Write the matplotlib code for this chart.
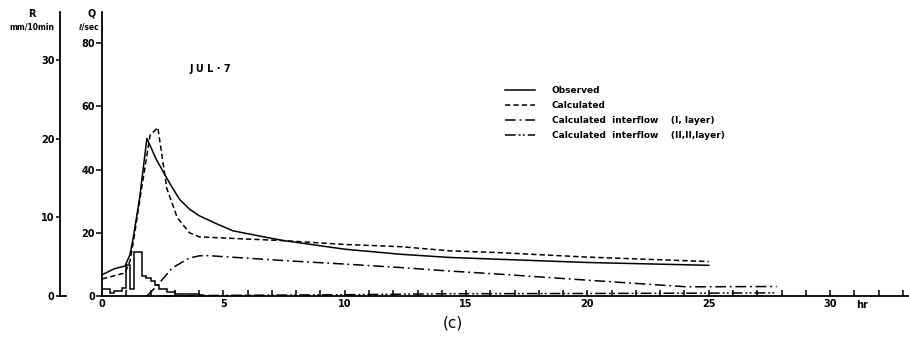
import numpy as np
import matplotlib
matplotlib.use("Agg")
import matplotlib.pyplot as plt

plt.rcParams['font.family'] = ['DejaVu Sans']

# rainfall, mm per 10 min, bins of 10 min from t = 0
rain = [0.9, 0.9, 0.35, 0.6, 0.6, 1.0, 4.0, 0.9, 5.6, 5.6, 2.5, 2.3, 1.9, 1.4,
        0.9, 0.9, 0.55, 0.55, 0.3, 0.3, 0.2, 0.3, 0.2, 0.3, 0.1]
rain_edges = np.arange(len(rain) + 1) / 6.0

# discharge, l/sec
obs_t = [0, 0.5, 0.95, 1.15, 1.3, 1.55, 1.85, 2.25, 2.8, 3.2, 3.6, 4.0, 4.7, 5.4,
         6.8, 7.5, 10, 12.3, 14.3, 16.4, 20, 25]
obs_q = [6.7, 8.6, 9.5, 13, 19, 31, 49.8, 43, 35.5, 30.5, 27.5, 25.4, 22.9, 20.6,
         18.5, 17.5, 14.8, 13.2, 12.2, 11.6, 10.6, 9.7]

calc_t = [0, 0.95, 1.15, 1.3, 1.55, 1.98, 2.3, 2.67, 3.1, 3.6, 4.0, 5.7,
          7.5, 10, 12.3, 14.3, 16.4, 20, 25]
calc_q = [5.4, 7.3, 11, 17.5, 30, 50.8, 53.3, 34, 24.8, 20, 18.7, 18.1,
          17.5, 16.3, 15.6, 14.3, 13.7, 12.3, 10.9]

if1_t = [1.85, 2.26, 2.9, 3.6, 4.0, 4.3, 5.7, 7.7, 10, 12.3, 14.3, 16.4, 20,
         24.1, 27.8]
if1_q = [0, 3.2, 8.9, 12, 12.7, 12.8, 12.1, 11.1, 10.1, 9.0, 7.9, 6.9, 5.0,
         2.9, 3.0]

if2_t = [2.5, 5, 10, 14, 20, 25, 27.8]
if2_q = [0, 0.2, 0.4, 0.7, 0.8, 0.9, 1.0]

labels = ["Observed", "Calculated",
          "Calculated  interflow    (I, layer)",
          "Calculated  interflow    (II,II,layer)"]

W, H = 909, 346
fig = plt.figure(figsize=(W / 100, H / 100), dpi=100)
ax = fig.add_axes([102 / W, (H - 296) / H, 807 / W, 284 / H])

lw = 1.1
ax.plot(obs_t, obs_q, color='k', lw=lw, label=labels[0], clip_on=False)
ax.plot(calc_t, calc_q, color='k', lw=lw, ls=(0, (3.5, 2)), label=labels[1], clip_on=False)
ax.plot(if1_t, if1_q, color='k', lw=lw, ls=(0, (7, 2.5, 1.2, 2.5)), label=labels[2], clip_on=False)
ax.plot(if2_t, if2_q, color='k', lw=lw, ls=(0, (7, 2, 1.2, 1.5, 1.2, 2)), label=labels[3], clip_on=False)

ax.set_xlim(0, 807 / 24.27)
ax.set_ylim(0, 284 / 3.1625)
for s in ['top', 'right']:
    ax.spines[s].set_visible(False)
for s in ['left', 'bottom']:
    ax.spines[s].set_linewidth(1.3)

ax.set_xticks(np.arange(0, 34))
ax.set_xticklabels([str(i) if i % 5 == 0 and i <= 30 else '' for i in range(34)])
ax.tick_params(axis='x', direction='in', length=4, width=1.1, pad=2, labelsize=7)
ax.set_yticks([0, 20, 40, 60, 80])
ax.tick_params(axis='y', direction='out', length=4, width=1.1, pad=1, labelsize=7)
for t in ax.get_xticklabels() + ax.get_yticklabels():
    t.set_fontweight('bold')

# rainfall axis
ax2 = ax.twinx()
ax2.stairs(rain, rain_edges, color='k', lw=1.1, baseline=0)
ax2.set_ylim(0, 284 / 7.87)
for s in ['top', 'right', 'bottom']:
    ax2.spines[s].set_visible(False)
ax2.spines['left'].set_visible(True)
ax2.spines['left'].set_position(('axes', -42 / 807))
ax2.spines['left'].set_linewidth(1.3)
ax2.yaxis.set_ticks_position('left')
ax2.set_yticks([0, 10, 20, 30])
ax2.tick_params(axis='y', direction='out', length=3, width=1.1, pad=1, labelsize=7)
for t in ax2.get_yticklabels():
    t.set_fontweight('bold')
ax2.plot([-42 / 807, -36 / 807], [0, 0], color='k', lw=1.3,
         transform=ax2.transAxes, clip_on=False)

leg = ax.legend(loc='upper left', bbox_to_anchor=(505 / W, 1 - 86 / H),
                bbox_transform=fig.transFigure, frameon=False,
                handlelength=3.3, handletextpad=1.9, labelspacing=0.68,
                borderpad=0, borderaxespad=0,
                prop={'size': 6.5, 'weight': 'bold'})

fig.text(210 / W, 1 - 69 / H, "J U L · 7", ha='center', va='center',
         fontsize=7, fontweight='bold')
fig.text(32 / W, 1 - 14 / H, "R", ha='center', va='center', fontsize=7, fontweight='bold')
fig.text(32 / W, 1 - 27 / H, "mm/10min", ha='center', va='center', fontsize=5.5, fontweight='bold')
fig.text(92 / W, 1 - 14 / H, "Q", ha='center', va='center', fontsize=7, fontweight='bold')
fig.text(99 / W, 1 - 27 / H, "ℓ/sec", ha='right', va='center', fontsize=5.5, fontweight='bold')
fig.text(862 / W, 1 - 305 / H, "hr", ha='center', va='center', fontsize=7, fontweight='bold')
fig.text(453 / W, 1 - 323 / H, "(c)", ha='center', va='center', fontsize=11)

fig.savefig("out.png", dpi=100)
